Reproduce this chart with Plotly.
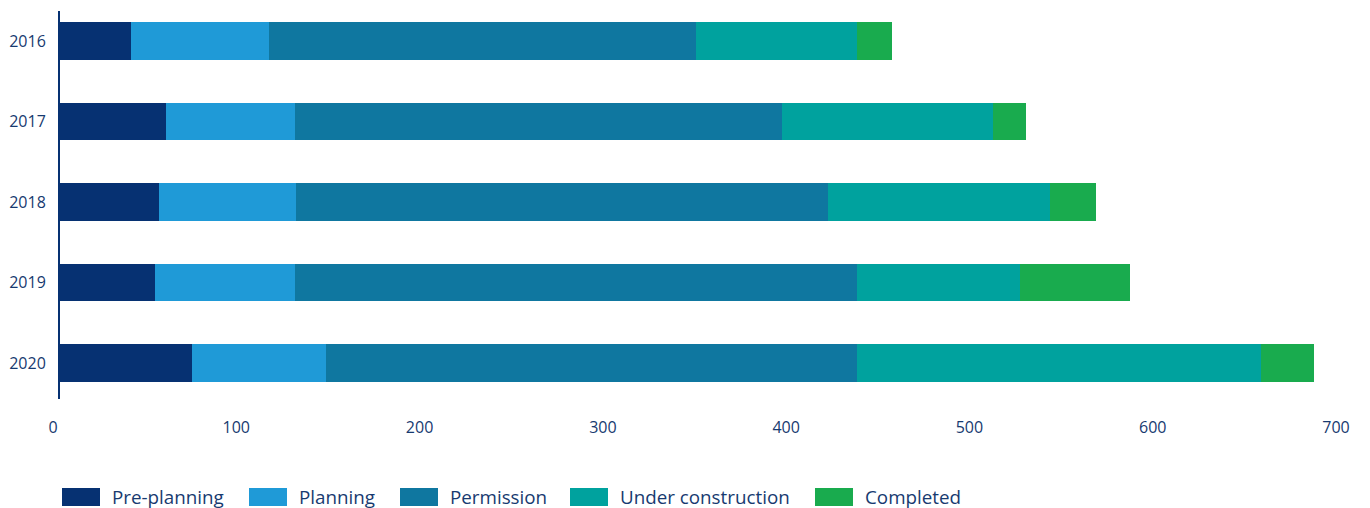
import plotly.graph_objects as go

years = ["2016", "2017", "2018", "2019", "2020"]
series_names = ["Pre-planning", "Planning", "Permission", "Under construction", "Completed"]
pre_planning = [39, 58, 54, 52, 72]
planning = [75, 70, 75, 76, 73]
permission = [233, 266, 290, 307, 290]
under_construction = [88, 115, 121, 89, 220]
completed = [19, 18, 25, 60, 29]
x_ticks = [0, 100, 200, 300, 400, 500, 600, 700]

colors = ["#063172", "#1f9ad7", "#0f77a0", "#00a29e", "#19ab4e"]
text_color = "#173a70"
font_family = "Open Sans"

fig = go.Figure()
for name, vals, col in zip(series_names,
                           [pre_planning, planning, permission, under_construction, completed],
                           colors):
    fig.add_trace(go.Bar(y=years, x=vals, name=name, orientation="h",
                         marker=dict(color=col, line=dict(width=0)),
                         showlegend=False))

W, H = 1370, 508
ml, mr, mt, mb = 60, 27, 11, 109
fig.update_layout(
    width=W, height=H,
    barmode="stack", bargap=0.53,
    margin=dict(l=ml, r=mr, t=mt, b=mb, pad=0, autoexpand=False),
    plot_bgcolor="white", paper_bgcolor="white",
    font=dict(family=font_family, color=text_color, size=16),
)
fig.update_xaxes(range=[0, 700], tickvals=x_ticks, showgrid=False, zeroline=False,
                 showline=False, ticks="", tickfont=dict(size=16, color=text_color),
                 ticklabelstandoff=17, ticklabelshift=-7, automargin=False)
fig.update_yaxes(type="category", categoryorder="array", categoryarray=years,
                 range=[4.447, -0.373], showgrid=False, zeroline=False,
                 showline=True, linecolor="#063172", linewidth=2, ticks="",
                 tickfont=dict(size=16, color=text_color), ticklabelstandoff=9,
                 automargin=False)

# custom legend with wide swatches
leg_x = [62, 249, 400, 570, 815]
box_w, box_h, leg_yc = 38, 18, 497
for name, col, lx in zip(series_names, colors, leg_x):
    fig.add_shape(type="rect", xref="paper", yref="paper",
                  x0=(lx - ml) / (W - ml - mr), x1=(lx + box_w - ml) / (W - ml - mr),
                  y0=(H - mb - (leg_yc + box_h / 2)) / (H - mt - mb),
                  y1=(H - mb - (leg_yc - box_h / 2)) / (H - mt - mb),
                  fillcolor=col, line=dict(width=0))
    fig.add_annotation(xref="paper", yref="paper",
                       x=(lx + box_w + 10 - ml) / (W - ml - mr),
                       y=(H - mb - leg_yc) / (H - mt - mb),
                       text=name, showarrow=False, xanchor="left", yanchor="middle",
                       font=dict(size=18.8, color=text_color, family=font_family))

fig.write_html("out.html", config={"displayModeBar": False},
               post_script="document.body.style.margin='0';document.body.style.overflow='hidden';")
